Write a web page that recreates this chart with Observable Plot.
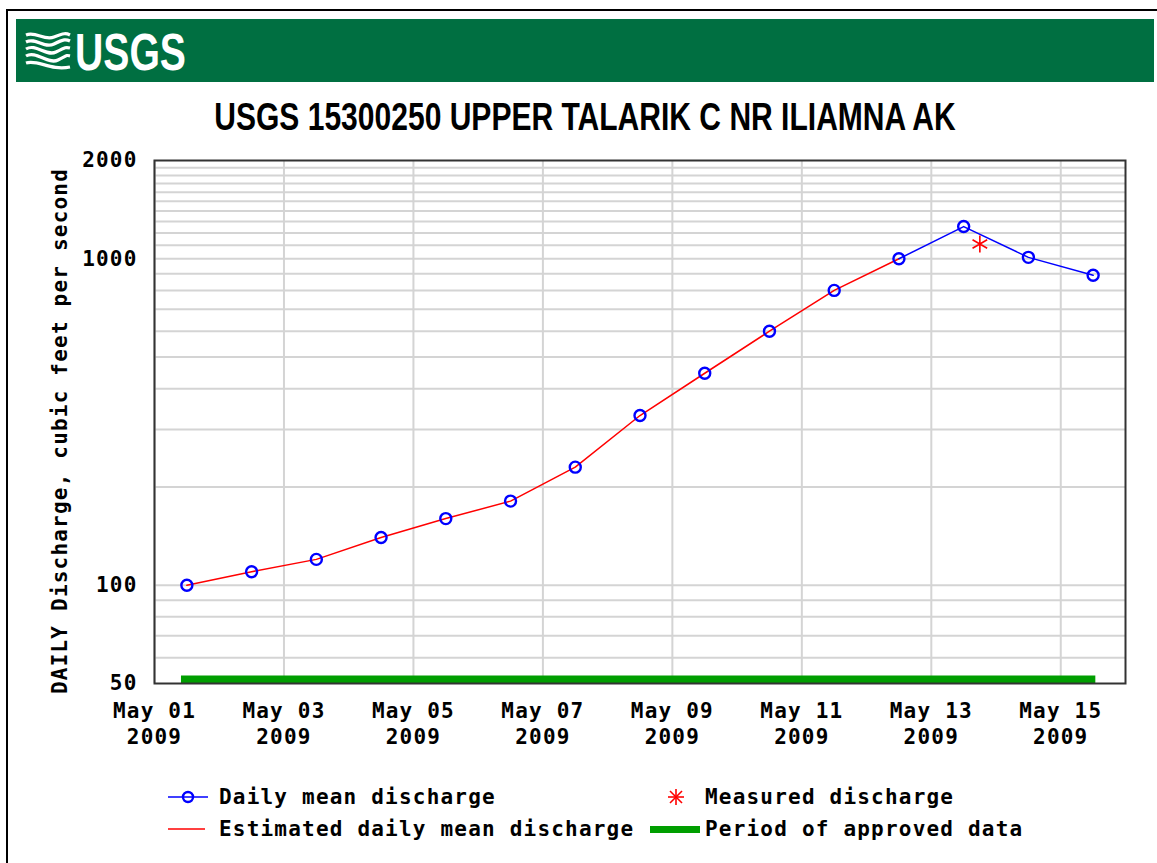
<!DOCTYPE html>
<html><head><meta charset="utf-8">
<script src="https://cdn.jsdelivr.net/npm/d3@7"></script>
<script src="https://cdn.jsdelivr.net/npm/@observablehq/plot@0.6"></script>
<style>
html,body{margin:0;padding:0;background:#fff;}
body{width:1157px;height:863px;overflow:hidden;position:relative;font-family:"DejaVu Sans Mono",monospace;}
#border{position:absolute;left:6px;top:9px;width:1200px;height:900px;border-top:2px solid #000;border-left:2px solid #000;}
#banner{position:absolute;left:16px;top:19px;width:1138px;height:63px;background:#006f41;}
#title{position:absolute;left:0;top:94px;width:1170px;text-align:center;font-family:'Liberation Sans Narrow','Liberation Sans',Arial,sans-serif;font-weight:bold;font-size:39px;line-height:46px;color:#000;white-space:nowrap;transform:scaleX(0.77);transform-origin:585px 50%;}
#chart{position:absolute;left:0;top:140px;}
#legsvg{position:absolute;left:0;top:770px;}
.leg{position:absolute;font-weight:bold;font-size:21px;line-height:24px;letter-spacing:1.2px;color:#000;white-space:nowrap;font-family:"DejaVu Sans Mono",monospace;}
</style>
</head><body>
<div id="border"></div>
<div id="banner">
<svg width="1138" height="63">
  <g fill="none" stroke="#fff" stroke-width="3.2" stroke-linecap="butt">
    <path d="M10 16 C20 12, 28 22, 38 18 S50 14, 54 16"/>
    <path d="M10 23 C20 18, 28 30, 38 25 S50 20, 54 22"/>
    <path d="M10 30 C20 24, 30 38, 40 33 S50 28, 54 29"/>
    <path d="M10 37 C20 31, 32 46, 42 41 S50 36, 54 37"/>
    <path d="M10 44 C22 40, 34 52, 54 48"/>
  </g>
  <text x="59" y="51" fill="#fff" font-family="'Liberation Sans Narrow','Liberation Sans',Arial,sans-serif" font-weight="bold" font-size="52" textLength="111" lengthAdjust="spacingAndGlyphs">USGS</text>
</svg>
</div>
<div id="title">USGS 15300250 UPPER TALARIK C NR ILIAMNA AK</div>
<div id="chart"></div>
<svg id="legsvg" width="1157" height="80">
  <line x1="168" x2="208" y1="27" y2="27" stroke="#0000ff" stroke-width="1.5"/>
  <circle cx="188" cy="27" r="5" fill="none" stroke="#0000ff" stroke-width="2.4"/>
  <line x1="168" x2="205" y1="59" y2="59" stroke="#ff0000" stroke-width="1.5"/>
  <g stroke="#ff0000" stroke-width="1.6" transform="translate(676,27)">
    <line x1="0" y1="-8" x2="0" y2="8"/>
    <line x1="-8" y1="0" x2="8" y2="0"/>
    <line x1="-6" y1="-6" x2="6" y2="6"/>
    <line x1="-6" y1="6" x2="6" y2="-6"/>
  </g>
  <rect x="650" y="56" width="50" height="7" fill="#009e00"/>
</svg>
<div class="leg" style="left:219px;top:785px;">Daily mean discharge</div>
<div class="leg" style="left:705px;top:785px;">Measured discharge</div>
<div class="leg" style="left:219px;top:817px;">Estimated daily mean discharge</div>
<div class="leg" style="left:705px;top:817px;">Period of approved data</div>
<script>
// ---- data ----
const days = ["2009-05-01","2009-05-02","2009-05-03","2009-05-04","2009-05-05","2009-05-06","2009-05-07","2009-05-08","2009-05-09","2009-05-10","2009-05-11","2009-05-12","2009-05-13","2009-05-14","2009-05-15"];
const discharge = [100,110,120,140,160,181,230,331,446,600,800,1000,1255,1010,890];
const estimatedDays = ["2009-05-01","2009-05-02","2009-05-03","2009-05-04","2009-05-05","2009-05-06","2009-05-07","2009-05-08","2009-05-09","2009-05-10","2009-05-11","2009-05-12"];
const measuredTimes = ["2009-05-13T18:00Z"];
const measuredValues = [1110];
const approvedPeriod = ["2009-05-01T10:00Z","2009-05-15T13:00Z"];
const xTickDays = ["2009-05-01","2009-05-03","2009-05-05","2009-05-07","2009-05-09","2009-05-11","2009-05-13","2009-05-15"];
const yTickLabels = [50,100,1000,2000];
const yGridValues = [60,70,80,90,100,200,300,400,500,600,700,800,900,1000,1100,1200,1300,1400,1500,1600,1700,1800,1900];
const xDomain = ["2009-05-01","2009-05-16"];
const yLabel = "DAILY Discharge, cubic feet per second";

// ---- build tables ----
const noon = d => new Date(d + "T12:00:00Z");
const midnight = d => new Date(d + "T00:00:00Z");
const rows = days.map((d, i) => ({date: noon(d), value: discharge[i], estimated: estimatedDays.includes(d)}));
const estRows = rows.filter(r => r.estimated);
const lastEst = estRows.length - 1;
const dailyRows = rows.slice(lastEst);
const measured = measuredTimes.map((t, i) => ({date: new Date(t), value: measuredValues[i]}));
const approved = [{y: yTickLabels[0], x1: new Date(approvedPeriod[0]), x2: new Date(approvedPeriod[1])}];
const xTicks = xTickDays.map(midnight);

const chart = Plot.plot({
  width: 1157, height: 640,
  marginTop: 20, marginLeft: 154, marginRight: 32, marginBottom: 97,
  x: {type: "utc", domain: xDomain.map(midnight)},
  y: {type: "log", domain: [50, 2000]},
  style: {fontFamily: '"DejaVu Sans Mono", monospace', fontWeight: "bold", fontSize: "21px", color: "#000", background: "transparent", letterSpacing: "1.2px", overflow: "visible"},
  marks: [
    Plot.ruleY(yGridValues, {stroke: "#d4d4d4", strokeWidth: 2}),
    Plot.ruleX(xTicks, {stroke: "#d4d4d4", strokeWidth: 2}),
    Plot.ruleY(approved, {y: "y", x1: "x1", x2: "x2", stroke: "#009e00", strokeWidth: 8, dy: -4}),
    Plot.frame({stroke: "#333", strokeWidth: 2}),
    Plot.line(estRows, {x: "date", y: "value", stroke: "#ff0000", strokeWidth: 1.5}),
    Plot.line(dailyRows, {x: "date", y: "value", stroke: "#0000ff", strokeWidth: 1.5}),
    Plot.dot(rows, {x: "date", y: "value", r: 5.5, stroke: "#0000ff", strokeWidth: 2.4, fill: "none"}),
    Plot.dot(measured, {x: "date", y: "value", symbol: "asterisk", r: 8, stroke: "#ff0000", strokeWidth: 1.6}),
    Plot.axisY({ticks: yTickLabels, tickFormat: d => String(d), tickSize: 0, tickPadding: 17, label: null}),
    Plot.axisX({ticks: xTicks, tickFormat: d3.utcFormat("%b %d\n%Y"), tickSize: 0, tickPadding: 16, label: null, lineHeight: 1.24}),
    Plot.text([yLabel], {text: d => d, frameAnchor: "left", rotate: -90, dx: -94, dy: 9, textAnchor: "middle", fill: "#000"})
  ]
});
document.getElementById("chart").appendChild(chart);
</script>
</body></html>
